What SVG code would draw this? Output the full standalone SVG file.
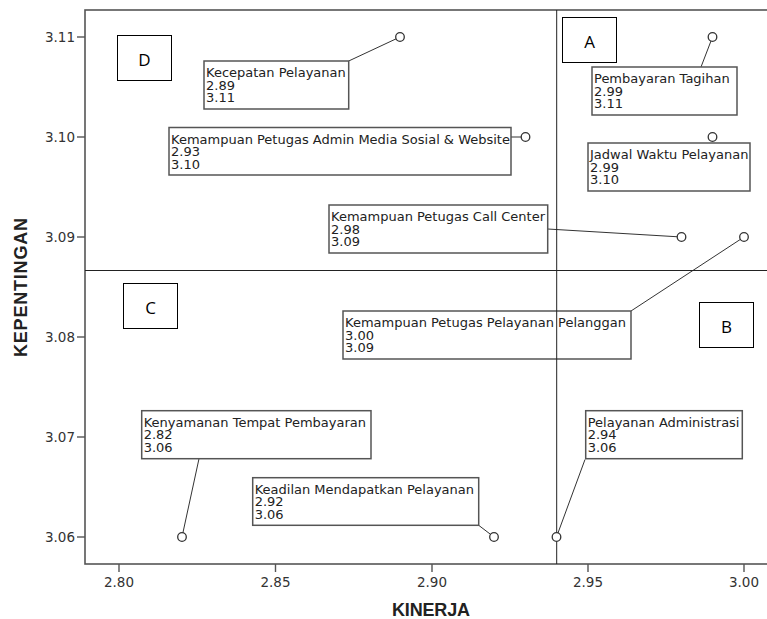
<svg xmlns="http://www.w3.org/2000/svg" width="767" height="619" viewBox="0 0 767 619">
<defs>
<style>
.frame{fill:none;stroke:#555;stroke-width:1.6}
.tick{stroke:#555;stroke-width:1.4}
.tl{font-family:"DejaVu Sans",sans-serif;font-size:13.5px;fill:#333}
.ax{font-family:"Liberation Sans",Arial,sans-serif;font-weight:bold;font-size:18px;fill:#222}
.ref{stroke:#222;stroke-width:1}
.lbox{fill:#fff;stroke:#555;stroke-width:1.5}
.lt{font-family:"DejaVu Sans",sans-serif;font-size:13px;fill:#222}
.lead{stroke:#333;stroke-width:1;fill:none}
.pt{fill:#fff;stroke:#333;stroke-width:1.3}
.qbox{fill:#fff;stroke:#000;stroke-width:1}
.qt{font-family:"Open Sans","Liberation Sans",sans-serif;font-size:17px;fill:#000;text-anchor:middle}
</style>
</defs>
<rect width="767" height="619" fill="#fff"/>
<g id="axes">
<rect class="frame" x="85" y="10" width="700" height="554"/>
<line class="tick" x1="77" y1="37" x2="85" y2="37"/>
<line class="tick" x1="77" y1="137" x2="85" y2="137"/>
<line class="tick" x1="77" y1="237" x2="85" y2="237"/>
<line class="tick" x1="77" y1="337" x2="85" y2="337"/>
<line class="tick" x1="77" y1="437" x2="85" y2="437"/>
<line class="tick" x1="77" y1="537" x2="85" y2="537"/>
<g class="tl" text-anchor="end">
<text x="75" y="42">3.11</text>
<text x="75" y="142">3.10</text>
<text x="75" y="242">3.09</text>
<text x="75" y="342">3.08</text>
<text x="75" y="442">3.07</text>
<text x="75" y="542">3.06</text>
</g>
<line class="tick" x1="119" y1="564" x2="119" y2="572"/>
<line class="tick" x1="275.5" y1="564" x2="275.5" y2="572"/>
<line class="tick" x1="432" y1="564" x2="432" y2="572"/>
<line class="tick" x1="588" y1="564" x2="588" y2="572"/>
<line class="tick" x1="744" y1="564" x2="744" y2="572"/>
<g class="tl" text-anchor="middle">
<text x="119" y="587">2.80</text>
<text x="275.5" y="587">2.85</text>
<text x="432" y="587">2.90</text>
<text x="588" y="587">2.95</text>
<text x="744" y="587">3.00</text>
</g>
<text class="ax" x="431" y="616" text-anchor="middle" textLength="78">KINERJA</text>
<text class="ax" transform="translate(27,287.5) rotate(-90)" text-anchor="middle" textLength="139">KEPENTINGAN</text>
</g>
<g id="quadrants">
<g id="qD"><rect class="qbox" x="117.5" y="35.5" width="54" height="45"/><text class="qt" x="144.5" y="66">D</text></g>
<g id="qA"><rect class="qbox" x="562.5" y="17.5" width="54" height="45"/><text class="qt" x="589.5" y="48">A</text></g>
<g id="qC"><rect class="qbox" x="123.5" y="283.5" width="54" height="45"/><text class="qt" x="150.5" y="314">C</text></g>
<g id="qB"><rect class="qbox" x="699.5" y="302.5" width="54" height="45"/><text class="qt" x="726.5" y="333">B</text></g>
</g>
<g id="connectors">
<line class="lead" x1="348.7" y1="61" x2="400" y2="37"/>
<line class="lead" x1="511" y1="137" x2="525.5" y2="137"/>
<line class="lead" x1="547.7" y1="229" x2="681.5" y2="237"/>
<line class="lead" x1="701" y1="67" x2="712.5" y2="37"/>
<line class="lead" x1="631" y1="311" x2="744" y2="237"/>
<line class="lead" x1="199" y1="458.7" x2="182" y2="537"/>
<line class="lead" x1="478.7" y1="525.3" x2="494" y2="537"/>
<line class="lead" x1="585" y1="459.5" x2="556.5" y2="537"/>
</g>
<g id="n1"><rect class="lbox" x="204" y="61" width="144.7" height="48"/><text class="lt"><tspan x="206" y="77">Kecepatan Pelayanan</tspan><tspan x="206" y="89.5">2.89</tspan><tspan x="206" y="102">3.11</tspan></text></g>
<g id="n2"><rect class="lbox" x="169" y="127.5" width="342" height="47.5"/><text class="lt"><tspan x="171" y="143.5">Kemampuan Petugas Admin Media Sosial &amp; Website</tspan><tspan x="171" y="156">2.93</tspan><tspan x="171" y="168.5">3.10</tspan></text></g>
<g id="n3"><rect class="lbox" x="329" y="205" width="218.7" height="48"/><text class="lt"><tspan x="331" y="221">Kemampuan Petugas Call Center</tspan><tspan x="331" y="233.5">2.98</tspan><tspan x="331" y="246">3.09</tspan></text></g>
<g id="n4"><rect class="lbox" x="592" y="67" width="145" height="48"/><text class="lt"><tspan x="594" y="83">Pembayaran Tagihan</tspan><tspan x="594" y="95.5">2.99</tspan><tspan x="594" y="108">3.11</tspan></text></g>
<g id="n5"><rect class="lbox" x="588" y="143" width="162" height="48"/><text class="lt"><tspan x="590" y="159">Jadwal Waktu Pelayanan</tspan><tspan x="590" y="171.5">2.99</tspan><tspan x="590" y="184">3.10</tspan></text></g>
<g id="n6"><rect class="lbox" x="343" y="311" width="288" height="48"/><text class="lt"><tspan x="345" y="327">Kemampuan Petugas Pelayanan Pelanggan</tspan><tspan x="345" y="339.5">3.00</tspan><tspan x="345" y="352">3.09</tspan></text></g>
<g id="n7"><rect class="lbox" x="141.7" y="410.7" width="229.3" height="48"/><text class="lt"><tspan x="143.7" y="426.7">Kenyamanan Tempat Pembayaran</tspan><tspan x="143.7" y="439.2">2.82</tspan><tspan x="143.7" y="451.7">3.06</tspan></text></g>
<g id="n8"><rect class="lbox" x="252.7" y="477.7" width="226" height="47.6"/><text class="lt"><tspan x="254.7" y="493.7">Keadilan Mendapatkan Pelayanan</tspan><tspan x="254.7" y="506.2">2.92</tspan><tspan x="254.7" y="518.7">3.06</tspan></text></g>
<g id="n9"><rect class="lbox" x="585.7" y="410.7" width="156.6" height="48"/><text class="lt"><tspan x="587.7" y="426.7">Pelayanan Administrasi</tspan><tspan x="587.7" y="439.2">2.94</tspan><tspan x="587.7" y="451.7">3.06</tspan></text></g>
<g id="reflines">
<line class="ref" x1="556.7" y1="10" x2="556.7" y2="564"/>
<line class="ref" x1="85" y1="270.5" x2="767" y2="270.5"/>
</g>
<g id="points">
<circle class="pt" cx="400" cy="37" r="4.3"/>
<circle class="pt" cx="712.5" cy="37" r="4.3"/>
<circle class="pt" cx="712.5" cy="137" r="4.3"/>
<circle class="pt" cx="525.5" cy="137" r="4.3"/>
<circle class="pt" cx="681.5" cy="237" r="4.3"/>
<circle class="pt" cx="744" cy="237" r="4.3"/>
<circle class="pt" cx="182" cy="537" r="4.3"/>
<circle class="pt" cx="494" cy="537" r="4.3"/>
<circle class="pt" cx="556.5" cy="537" r="4.3"/>
</g>
</svg>
